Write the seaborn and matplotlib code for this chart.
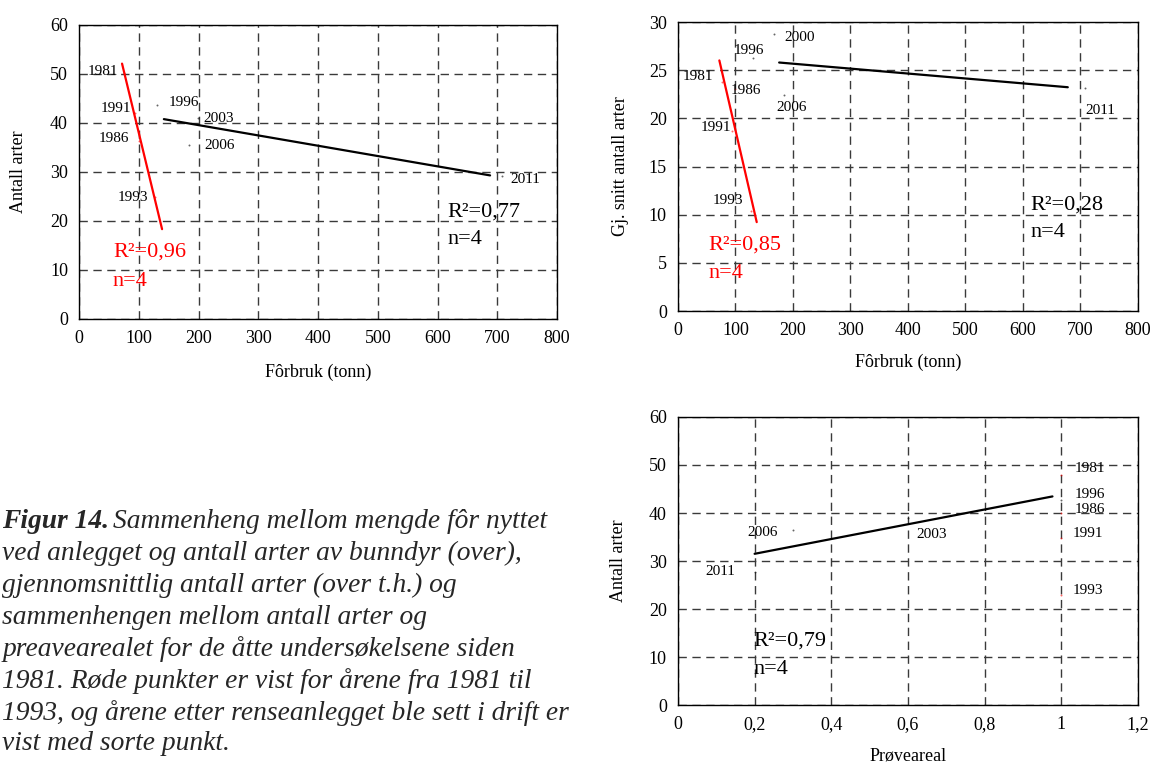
import numpy as np
import seaborn as sns
import matplotlib.pyplot as plt

# --- data ---
# top left: antall arter vs forbruk
a_red_years = ["1981", "1991", "1986", "1993"]
a_red_feed = [76, 94, 100, 127]
a_red_arter = [50.3, 42.1, 36.3, 24.8]
a_blk_years = ["1996", "2003", "2006", "2011"]
a_blk_feed = [130, 199, 184, 708]
a_blk_arter = [43.6, 41.1, 35.6, 29.1]
a_red_span = [72, 139]
a_blk_span = [142, 688]

# top right: gj. snitt antall arter vs forbruk
b_red_years = ["1981", "1986", "1991", "1993"]
b_red_feed = [76, 100, 94, 127]
b_red_snitt = [23.8, 23.0, 18.7, 10.4]
b_blk_years = ["1996", "2000", "2006", "2011"]
b_blk_feed = [130, 167, 184, 708]
b_blk_snitt = [26.3, 28.8, 22.4, 23.2]
b_red_span = [72, 137]
b_blk_span = [176, 678]

# bottom right: antall arter vs proveareal
c_red_years = ["1981", "1986", "1991", "1993"]
c_red_areal = [1.0, 1.0, 1.0, 1.0]
c_red_arter = [47.9, 39.9, 34.7, 22.9]
c_blk_years = ["1996", "2003", "2006", "2011"]
c_blk_areal = [1.0, 0.6, 0.3, 0.2]
c_blk_arter = [42.7, 39.0, 36.5, 27.8]
c_blk_span = [0.2, 0.977]

feed_ticks = [0, 100, 200, 300, 400, 500, 600, 700, 800]
areal_ticks = [0, 0.2, 0.4, 0.6, 0.8, 1.0, 1.2]
areal_ticklabels = ["0", "0,2", "0,4", "0,6", "0,8", "1", "1,2"]

caption_lines = [
    "ved anlegget og antall arter av bunndyr (over),",
    "gjennomsnittlig antall arter (over t.h.) og",
    "sammenhengen mellom antall arter og",
    "preavearealet for de åtte undersøkelsene siden",
    "1981. Røde punkter er vist for årene fra 1981 til",
    "1993, og årene etter renseanlegget ble sett i drift er",
    "vist med sorte punkt.",
]

# label offsets in points (dx, dy, ha) -- placement only
a_red_off = [(-4.6, 1.0, "right"), (-3.0, 2.8, "right"), (-7.0, 2.1, "right"), (-5.0, 0.2, "right")]
a_blk_off = [(8.9, 2.4, "left"), (3.7, -1.0, "left"), (10.9, -1.0, "left"), (5.8, -2.6, "left")]
b_red_off = [(-6.3, 4.0, "right"), (-3.2, -0.5, "left"), (-0.7, 2.7, "right"), (-5.8, 7.7, "right")]
b_blk_off = [(-2.7, 5.4, "center"), (7.2, -2.6, "left"), (-5.6, -8.6, "left"), (0.0, -16.3, "left")]
c_red_off = [(9.9, 4.4, "left"), (9.9, 3.2, "left"), (8.4, 3.9, "left"), (8.4, 3.0, "left")]
c_blk_off = [(9.9, 4.3, "left"), (5.8, -11.7, "left"), (-10.8, -2.3, "right"), (-14.2, 0.0, "right")]

sns.set_theme(style="white")
plt.rcParams['font.family'] = ['Liberation Serif', 'DejaVu Serif']

RED = "#ff0000"
BLK = "#000000"


def group(ax, xs, ys, years, offs, color, span=None):
    # points in the original are only faint specks
    sns.scatterplot(x=xs, y=ys, ax=ax, color=color, s=2, linewidth=0, alpha=0.6, zorder=3)
    for x, y, yr, (dx, dy, ha) in zip(xs, ys, years, offs):
        ax.annotate(yr, (x, y), xytext=(dx, dy), textcoords="offset points",
                    ha=ha, va="center", fontsize=11, color="black", zorder=4)
    if span is not None:
        coef = np.polyfit(xs, ys, 1)
        sx = np.array(span)
        sns.lineplot(x=sx, y=np.polyval(coef, sx), ax=ax, color=color, lw=1.6, zorder=2)


def frame(ax, xlim, ylim, xticks, yticks, xlabel, ylabel, ylab_x, xlab_y):
    ax.set_xlim(xlim)
    ax.set_ylim(ylim)
    ax.set_xticks(xticks)
    ax.set_yticks(yticks)
    ax.grid(True, color="#3a3a3a", linestyle=(0, (6, 4)), lw=1.0)
    for sp in ax.spines.values():
        sp.set_color("black")
        sp.set_linewidth(1.0)
    ax.tick_params(length=0, labelsize=13, pad=8, colors="black")
    ax.set_xlabel(xlabel, fontsize=13, color="black")
    ax.set_ylabel(ylabel, fontsize=13, color="black")
    ax.yaxis.set_label_coords(ylab_x, 0.5)
    ax.xaxis.set_label_coords(0.5, xlab_y)


def stat(ax, x, y1, y2, r2, color):
    ax.text(x, y1, r2, transform=ax.transAxes, fontsize=16, color=color, va="center", ha="left")
    ax.text(x, y2, "n=4", transform=ax.transAxes, fontsize=16, color=color, va="center", ha="left")


fig = plt.figure(figsize=(11.52, 7.64), dpi=100)

ax1 = fig.add_axes([0.0686, 0.5825, 0.4149, 0.3848])
frame(ax1, (0, 800), (0, 60), feed_ticks, range(0, 61, 10),
      "Fôrbruk (tonn)", "Antall arter", -0.109, -0.153)
group(ax1, a_red_feed, a_red_arter, a_red_years, a_red_off, RED, a_red_span)
group(ax1, a_blk_feed, a_blk_arter, a_blk_years, a_blk_off, BLK, a_blk_span)
stat(ax1, 0.770, 0.364, 0.269, "R²=0,77", BLK)
stat(ax1, 0.071, 0.228, 0.129, "R²=0,96", RED)

ax2 = fig.add_axes([0.5885, 0.5929, 0.3993, 0.3783])
frame(ax2, (0, 800), (0, 30), feed_ticks, range(0, 31, 5),
      "Fôrbruk (tonn)", "Gj. snitt antall arter", -0.1065, -0.149)
group(ax2, b_red_feed, b_red_snitt, b_red_years, b_red_off, RED, b_red_span)
group(ax2, b_blk_feed, b_blk_snitt, b_blk_years, b_blk_off, BLK, b_blk_span)
stat(ax2, 0.767, 0.367, 0.270, "R²=0,28", BLK)
stat(ax2, 0.067, 0.228, 0.131, "R²=0,85", RED)

ax3 = fig.add_axes([0.5885, 0.0772, 0.3993, 0.3770])
frame(ax3, (0, 1.2), (0, 60), areal_ticks, range(0, 61, 10),
      "Prøveareal", "Antall arter", -0.111, -0.146)
ax3.set_xticklabels(areal_ticklabels)
group(ax3, c_red_areal, c_red_arter, c_red_years, c_red_off, RED)
group(ax3, c_blk_areal, c_blk_arter, c_blk_years, c_blk_off, BLK, c_blk_span)
stat(ax3, 0.165, 0.222, 0.122, "R²=0,79", BLK)

# caption
cap_fs = 19.8
cap_y = [521, 553, 585, 617, 649, 681, 713, 743]
fig.text(0.002, 1 - cap_y[0] / 764, "Figur 14.", fontsize=cap_fs, style="italic",
         weight="bold", va="center", ha="left")
fig.text(113 / 1152, 1 - cap_y[0] / 764, "Sammenheng mellom mengde fôr nyttet",
         fontsize=cap_fs, style="italic", va="center", ha="left")
for yy, line in zip(cap_y[1:], caption_lines):
    fig.text(0.002, 1 - yy / 764, line, fontsize=cap_fs, style="italic", va="center", ha="left")

fig.savefig("out.png", dpi=100, facecolor="white")
